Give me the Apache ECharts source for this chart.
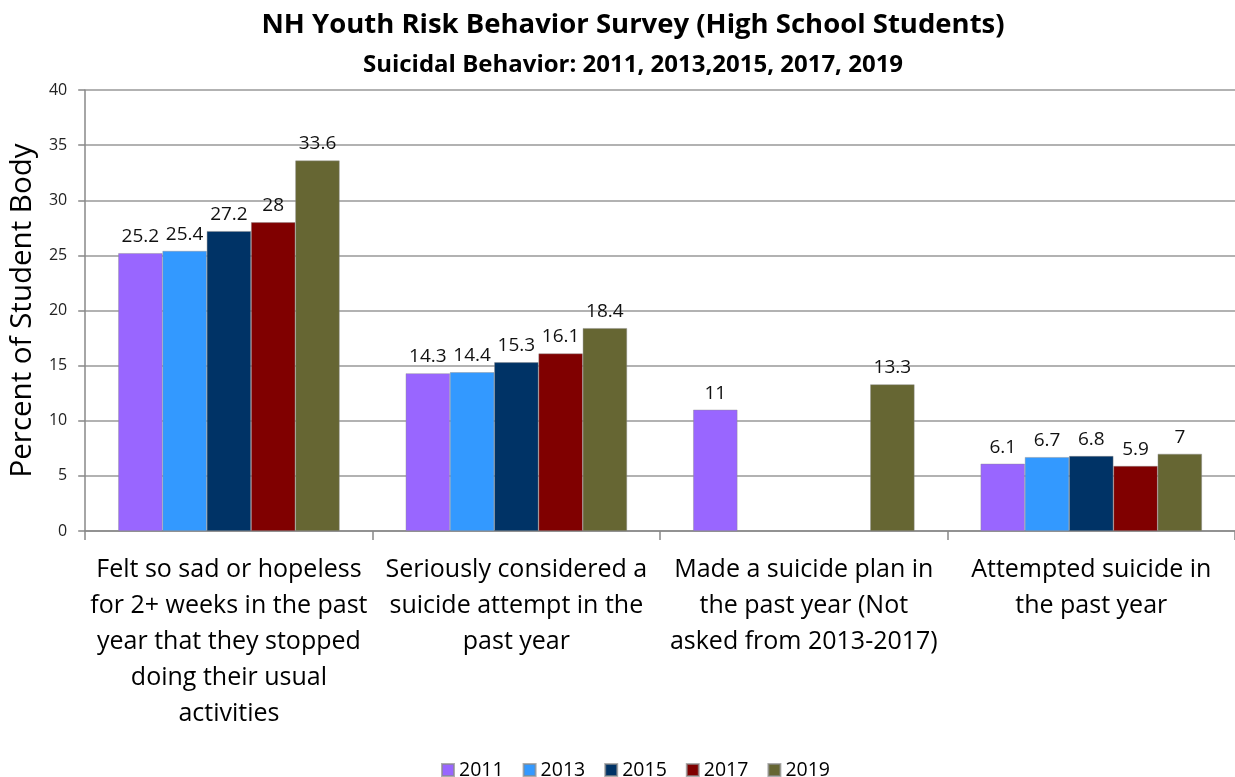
<!DOCTYPE html>
<html>
<head>
<meta charset="utf-8">
<script src="https://cdn.jsdelivr.net/npm/echarts@6/dist/echarts.min.js"></script>
<style>html,body{margin:0;padding:0;background:#fff}#c{width:1235px;height:777px}</style>
</head>
<body>
<div id="c"></div>
<script>
const categories = [
  "Felt so sad or hopeless\nfor 2+ weeks in the past\nyear that they stopped\ndoing their usual\nactivities",
  "Seriously considered a\nsuicide attempt in the\npast year",
  "Made a suicide plan in\nthe past year (Not\nasked from 2013-2017)",
  "Attempted suicide in\nthe past year"
];
const years = ["2011", "2013", "2015", "2017", "2019"];
const v2011 = [25.2, 14.3, 11, 6.1];
const v2013 = [25.4, 14.4, null, 6.7];
const v2015 = [27.2, 15.3, null, 6.8];
const v2017 = [28, 16.1, null, 5.9];
const v2019 = [33.6, 18.4, 13.3, 7];
const seriesValues = [v2011, v2013, v2015, v2017, v2019];
const colors = ["#9966FF", "#3399FF", "#003366", "#800000", "#666633"];
const yTicks = { min: 0, max: 40, interval: 5 };

const FONT = "'Open Sans', Lato, sans-serif";
const chart = echarts.init(document.getElementById('c'));
chart.setOption({
  animation: false,
  textStyle: { fontFamily: FONT },
  title: [
    { text: "NH Youth Risk Behavior Survey (High School Students)", left: 628, textAlign: 'center', top: 6,
      textStyle: { fontSize: 27.5, fontWeight: 'bold', color: '#000', fontFamily: FONT } },
    { text: "Suicidal Behavior: 2011, 2013,2015, 2017, 2019", left: 628, textAlign: 'center', top: 48,
      textStyle: { fontSize: 24, fontWeight: 'bold', color: '#000', fontFamily: FONT } }
  ],
  legend: {
    data: years, top: 755, left: 436, itemWidth: 12, itemHeight: 12, itemGap: 19,
    icon: 'rect', textStyle: { fontSize: 19.5, color: '#000' }
  },
  grid: { left: 85, right: 0, top: 90, bottom: 246 },
  xAxis: {
    type: 'category', data: categories,
    axisLine: { lineStyle: { color: '#888', width: 1.5 } },
    axisTick: { show: true, length: 9, lineStyle: { color: '#888', width: 1.5 } },
    axisLabel: { fontSize: 25, color: '#000', lineHeight: 36, margin: 21, interval: 0 }
  },
  yAxis: {
    type: 'value', min: yTicks.min, max: yTicks.max, interval: yTicks.interval,
    name: 'Percent of Student Body', nameLocation: 'middle', nameGap: 43,
    nameTextStyle: { fontSize: 29.5, color: '#000' },
    axisLine: { show: true, lineStyle: { color: '#888', width: 1.5 } },
    axisTick: { show: true, length: 7, lineStyle: { color: '#888', width: 1.5 } },
    splitLine: { lineStyle: { color: '#999', width: 1.5 } },
    axisLabel: { fontSize: 16, color: '#222', margin: 18 }
  },
  series: years.map((y, i) => ({
    name: y, type: 'bar', data: seriesValues[i],
    barGap: '0%', barCategoryGap: '23%',
    itemStyle: { color: colors[i], borderColor: 'rgba(140,140,140,0.7)', borderWidth: 0.6 },
    label: { show: true, position: 'top', fontSize: 19, color: '#111', distance: 7 }
  }))
});
</script>
</body>
</html>
